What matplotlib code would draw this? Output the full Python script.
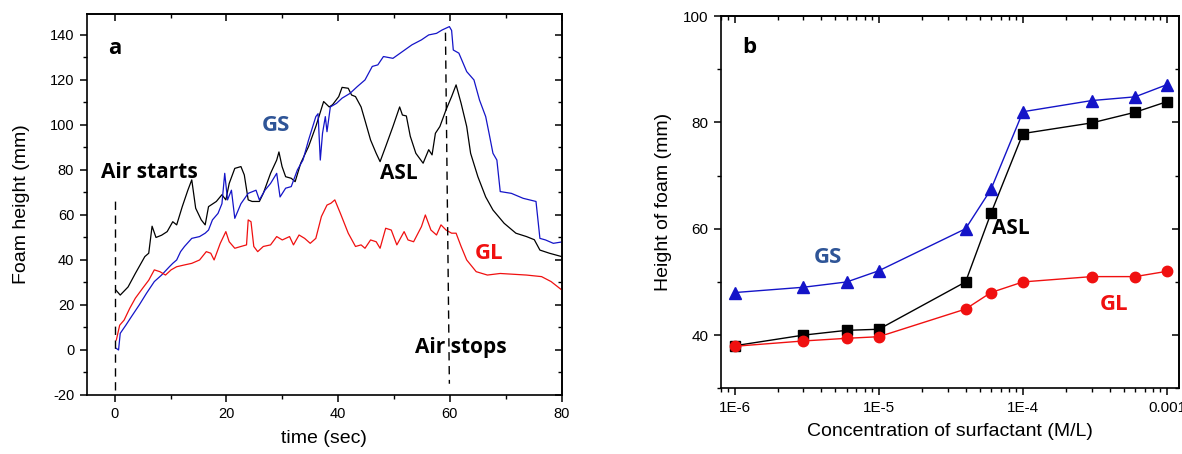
import matplotlib
matplotlib.use("Agg")
import matplotlib.pyplot as plt
from matplotlib.ticker import MultipleLocator, FixedLocator, FixedFormatter, LogLocator, NullFormatter
import numpy as np

# ---------------- Panel a data (time series) ----------------
asl_t = [0.2, 1.0, 2.4, 3.7, 5.4, 6.1, 6.7, 7.4, 8.4, 9.4, 10.4, 11.1, 12.1, 13.1, 13.8,
         14.5, 15.5, 16.2, 16.8, 18.2, 19.2, 19.9, 20.5, 21.5, 22.6, 23.2, 23.9, 24.6, 25.9,
         26.6, 27.9, 29.0, 29.4, 29.96, 30.6, 31.6, 32.3, 33.3, 34.7, 36.0, 37.4, 38.4, 39.0,
         40.1, 40.7, 41.8, 42.4, 43.1, 44.1, 44.8, 45.8, 46.8, 47.5, 48.5, 49.8, 51.0, 51.5,
         52.2, 52.9, 53.9, 55.2, 56.2, 56.8, 57.4, 58.2, 59.3, 60.3, 61.1, 62.0, 63.0, 63.7,
         65.0, 66.4, 67.7, 69.7, 71.8, 73.7, 75.1, 76.1, 77.8, 80.0]
asl_h = [26.7, 24.4, 28, 34, 41.5, 43, 55, 50, 51, 52.6, 57, 55.6, 63.7, 71, 75.6,
         63, 57.8, 55.6, 63.7, 66, 69, 66.7, 74, 80.7, 81.5, 77.8, 66.7, 66, 66,
         69.6, 78.5, 84.4, 88, 81.5, 77, 76.3, 74.8, 83, 90.4, 99.3, 110.4, 108, 109,
         112.6, 116.7, 116.3, 113.3, 112.6, 108, 102, 93.3, 87.4, 83.7, 90.4, 99.3, 108, 104.4,
         104, 95, 87.4, 83, 89, 86.7, 96.3, 99.3, 106.7, 112.6, 117.8, 109.6, 99.3, 87.4,
         77, 68, 62.2, 56.3, 51.9, 50.4, 49, 44.4, 43, 41.5]

gs_t = [0.3, 0.7, 1.0, 2.0, 3.0, 4.4, 5.7, 7.1, 8.4, 9.8, 10.4, 11.1, 11.8, 12.5, 13.8,
        15.2, 16.2, 16.8, 17.5, 18.5, 19.2, 19.7, 20.2, 20.9, 21.5, 22.6, 23.9, 25.3, 25.9,
        26.9, 27.9, 29.0, 29.6, 30.6, 31.6, 32.7, 33.7, 34.7, 36.0, 36.4, 36.8, 37.2, 37.7,
        38.0, 38.6, 39.7, 40.7, 42.1, 43.4, 44.8, 46.1, 47.1, 48.1, 49.8, 51.5, 53.2, 54.9,
        56.2, 57.6, 58.6, 59.9, 60.3, 60.6, 61.6, 63.0, 64.3, 65.3, 66.4, 67.0, 67.7, 68.4,
        69.0, 71.0, 73.1, 75.4, 76.1, 77.1, 78.5, 80.0]
gs_h = [0.7, 0, 7.4, 11, 14.8, 20, 25.2, 30.4, 33.3, 37, 38.5, 40, 43.7, 46, 49.6,
        50.4, 51.9, 53.3, 57.8, 60.7, 65, 78.5, 66.7, 71, 58.5, 65, 69.6, 71, 66.7,
        71, 74, 78.5, 68, 71.9, 72.6, 80, 84.4, 93.3, 103.7, 105, 84.4, 96.3, 103.7,
        97, 108, 109.6, 111.9, 114, 117, 120, 126, 126.7, 130.4, 129.6, 132.6, 135.6, 137.8,
        140, 140.7, 142.2, 143.7, 142, 133.3, 131.9, 123.7, 120, 111, 103.7, 96.3, 87.4, 84.4,
        70.4, 69.6, 67.4, 66, 49.6, 48.9, 47.4, 48]

gl_t = [0.3, 0.9, 1.7, 2.7, 3.7, 5.0, 6.1, 7.1, 8.1, 9.1, 10.1, 11.1, 12.5, 13.8, 15.2,
        16.4, 17.2, 17.8, 18.9, 19.9, 20.5, 21.5, 22.6, 23.6, 23.9, 24.4, 24.9, 25.6, 26.6,
        27.9, 29.0, 30.0, 31.3, 32.0, 33.0, 34.0, 35.0, 36.0, 37.0, 38.0, 38.7, 39.4, 40.4,
        41.8, 43.1, 44.1, 44.8, 45.8, 46.8, 47.5, 48.5, 49.5, 50.5, 51.8, 52.5, 53.5, 54.9,
        55.6, 56.6, 57.6, 58.4, 59.3, 60.3, 61.1, 62.0, 63.0, 64.7, 66.7, 69.0, 73.7, 76.4,
        78.1, 80.0]
gl_h = [4.4, 11, 13.3, 18.5, 23, 27.4, 31, 35.6, 34.8, 33.3, 35.6, 37, 37.8, 38.5, 40,
        43.7, 43, 40, 47.4, 52.6, 48.1, 45.2, 46, 46.7, 57.8, 57, 46, 43.7, 46,
        46.7, 50.4, 48.9, 50.4, 46.7, 51.1, 49.6, 47.4, 49.6, 59.3, 64.4, 65.2, 66.7, 60.7,
        51.9, 46, 46.7, 45.2, 48.9, 48.1, 45.2, 54.1, 53.3, 46.7, 52.6, 48.9, 48.1, 54.8,
        60, 53.3, 51.1, 55.6, 53.3, 51.9, 51.9, 46, 40, 34.8, 33.3, 34, 33.3, 32.6,
        30.4, 26.7]

# ---------------- Panel b data ----------------
conc = [1e-6, 3e-6, 6e-6, 1e-5, 4e-5, 6e-5, 1e-4, 3e-4, 6e-4, 1e-3]
gs_b = [48, 49, 50, 52.1, 60, 67.4, 82, 84.1, 84.8, 87.1]
asl_b = [38, 40, 40.9, 41.1, 50, 62.9, 77.9, 79.9, 81.9, 83.9]
gl_b = [37.9, 38.9, 39.4, 39.7, 44.9, 48, 50, 51, 51, 52]
conc_ticks = [1e-6, 1e-5, 1e-4, 1e-3]
conc_tick_labels = ["1E-6", "1E-5", "1E-4", "0.001"]

BLUE = "#1414C8"
RED = "#F01010"
GS_TXT = "#2F5597"
LBL_FONT = "Open Sans"
BASE_FONT = "Liberation Sans"

plt.rcParams['font.family'] = [BASE_FONT, 'DejaVu Sans']
plt.rcParams['axes.linewidth'] = 1.2
plt.rcParams['axes.unicode_minus'] = False

fig = plt.figure(figsize=(11.82, 4.54), dpi=100)


def mirror_ticks(ax, major, minor, log=False):
    secx = ax.secondary_xaxis('top')
    secx.xaxis.set_major_locator(major[0])
    secx.xaxis.set_minor_locator(minor[0])
    secx.xaxis.set_major_formatter(NullFormatter())
    secx.xaxis.set_minor_formatter(NullFormatter())
    secx.tick_params(which='major', direction='in', length=5, width=1.1)
    secx.tick_params(which='minor', direction='in', length=3, width=1.0)
    secy = ax.secondary_yaxis('right')
    secy.yaxis.set_major_locator(major[1])
    secy.yaxis.set_minor_locator(minor[1])
    secy.yaxis.set_major_formatter(NullFormatter())
    secy.yaxis.set_minor_formatter(NullFormatter())
    secy.tick_params(which='major', direction='in', length=5, width=1.1)
    secy.tick_params(which='minor', direction='in', length=3, width=1.0)


# ---------------- Panel a ----------------
axa = fig.add_axes([86.7/1182, 59/454, 475/1182, 381/454])
axa.plot(asl_t, asl_h, color="black", lw=0.9)
axa.plot(gs_t, gs_h, color=BLUE, lw=0.9)
axa.plot(gl_t, gl_h, color=RED, lw=0.9)
axa.plot([0, 0], [-18, 66], color="black", lw=1.0, dashes=(6, 4))
axa.plot([59.2, 59.9], [141, -15], color="black", lw=1.0, dashes=(6, 4))
axa.set_xlim(-5, 80)
axa.set_ylim(-20, 149.3)
axa.xaxis.set_major_locator(MultipleLocator(20))
axa.xaxis.set_minor_locator(MultipleLocator(10))
axa.yaxis.set_major_locator(MultipleLocator(20))
axa.yaxis.set_minor_locator(MultipleLocator(10))
axa.tick_params(which='major', direction='out', length=5, width=1.1, labelsize=10.5, pad=4)
axa.tick_params(which='minor', direction='out', length=3, width=1.0)
axa.set_xlabel("time (sec)", fontsize=14, labelpad=6)
axa.set_ylabel("Foam height (mm)", fontsize=14, labelpad=14)
mirror_ticks(axa, (MultipleLocator(20), MultipleLocator(20)),
             (MultipleLocator(10), MultipleLocator(10)))

bold = dict(family=LBL_FONT, fontweight='bold')
axa.text(0, 134, "a", fontsize=16, ha='center', va='center', color='black', **bold)
axa.text(-2.4, 76.3, "Air starts", fontsize=15, ha='left', va='baseline', color='black', **bold)
axa.text(26.4, 97.5, "GS", fontsize=16, ha='left', va='baseline', color=GS_TXT, **bold)
axa.text(47.5, 76, "ASL", fontsize=15, ha='left', va='baseline', color='black', **bold)
axa.text(64.4, 40.4, "GL", fontsize=16, ha='left', va='baseline', color=RED, **bold)
axa.text(53.7, -1.2, "Air stops", fontsize=15, ha='left', va='baseline', color='black', **bold)

# ---------------- Panel b ----------------
axb = fig.add_axes([720.7/1182, (454-388.3)/454, (1179-720.7)/1182, (388.3-16)/454])
axb.plot(conc, asl_b, color="black", lw=1.0, marker='s', ms=7, mec='black', mfc='black')
axb.plot(conc, gs_b, color=BLUE, lw=1.0, marker='^', ms=9, mec=BLUE, mfc=BLUE)
axb.plot(conc, gl_b, color=RED, lw=1.0, marker='o', ms=7.5, mec=RED, mfc=RED)
axb.set_xscale('log')
axb.set_xlim(10**-6.097, 10**-2.917)
axb.set_ylim(30, 100)
axb.xaxis.set_major_locator(FixedLocator(conc_ticks))
axb.xaxis.set_major_formatter(FixedFormatter(conc_tick_labels))
axb.xaxis.set_minor_locator(LogLocator(base=10, subs=np.arange(2, 10)))
axb.xaxis.set_minor_formatter(NullFormatter())
axb.yaxis.set_major_locator(MultipleLocator(20))
axb.yaxis.set_minor_locator(MultipleLocator(10))
axb.tick_params(which='major', direction='out', length=5, width=1.1, labelsize=11, pad=4)
axb.tick_params(which='minor', direction='out', length=3, width=1.0)
axb.set_xlabel("Concentration of surfactant (M/L)", fontsize=14, labelpad=6)
axb.set_ylabel("Height of foam (mm)", fontsize=14, labelpad=8)
mirror_ticks(axb, (FixedLocator(conc_ticks), MultipleLocator(20)),
             (LogLocator(base=10, subs=np.arange(2, 10)), MultipleLocator(10)))

axb.text(10**-5.895, 94, "b", fontsize=16, ha='center', va='center', color='black', **bold)
axb.text(10**-5.45, 53.5, "GS", fontsize=16, ha='left', va='baseline', color=GS_TXT, **bold)
axb.text(10**-4.216, 59.1, "ASL", fontsize=15, ha='left', va='baseline', color='black', **bold)
axb.text(10**-3.468, 44.7, "GL", fontsize=16, ha='left', va='baseline', color=RED, **bold)

fig.savefig("out.png", dpi=100)
